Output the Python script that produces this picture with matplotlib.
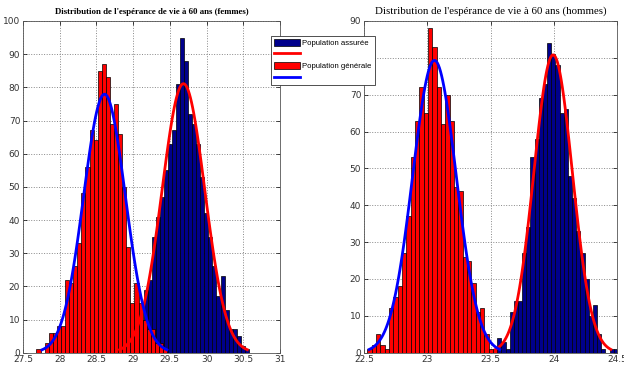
import numpy as np
import matplotlib
matplotlib.use("Agg")
import matplotlib.pyplot as plt
from matplotlib.patches import Patch
from matplotlib.lines import Line2D

# --- femmes (panneau gauche) ---
fem_gen_start = 27.683
fem_gen_width = 0.0556
fem_gen_counts = [1, 0, 3, 6, 6, 8, 8, 22, 21, 26, 33, 48, 56, 67, 64, 85,
                  87, 83, 69, 75, 66, 50, 32, 15, 21, 15, 10, 7, 7, 3, 3, 1]
fem_gen_fit = (28.61, 0.284)

fem_ass_start = 28.705
fem_ass_width = 0.055
fem_ass_counts = [1, 0, 0, 0, 1, 8, 4, 10, 19, 22, 35, 41, 47, 55, 63, 67,
                  81, 95, 88, 72, 69, 63, 53, 42, 35, 26, 17, 23, 13, 7, 7, 5, 2, 1]
fem_ass_fit = (29.685, 0.29)

# --- hommes (panneau droit) ---
hom_gen_start = 22.527
hom_gen_width = 0.0342
hom_gen_counts = [1, 2, 5, 2, 1, 12, 15, 18, 27, 37, 53, 63, 72, 65, 88, 83,
                  72, 62, 70, 63, 45, 44, 26, 25, 19, 11, 12, 5, 1, 1]
hom_gen_fit = (23.057, 0.172)

hom_ass_start = 23.553
hom_ass_width = 0.0329
hom_ass_counts = [4, 3, 1, 11, 14, 14, 27, 34, 53, 58, 69, 73, 84, 81, 78, 65,
                  66, 48, 42, 33, 27, 20, 10, 13, 5, 1, 0, 1, 1]
hom_ass_fit = (23.995, 0.152)

titres = ["Distribution de l'espérance de vie à 60 ans (femmes)",
          "Distribution de l'espérance de vie à 60 ans (hommes)"]
labels = ["Population assurée", "Population générale"]

BLEU_FONCE = (0.0, 0.0, 0.55)


def histfit(ax, start, width, counts, fit, bar_color, line_color):
    counts = np.asarray(counts, dtype=float)
    edges = start + width * np.arange(len(counts))
    ax.bar(edges, counts, width=width, align="edge", color=bar_color,
           edgecolor="black", linewidth=0.5)
    mu, sig = fit
    x = np.linspace(mu - 3 * sig, mu + 3 * sig, 120)
    y = counts.sum() * width * np.exp(-0.5 * ((x - mu) / sig) ** 2) / (sig * np.sqrt(2 * np.pi))
    return x, y


def tracer(ax, gen, ass, xlim, ylim, xticks, yticks, titre, titre_kw):
    # assuree d'abord, puis generale par-dessus
    xa, ya = histfit(ax, *ass, BLEU_FONCE, "red")
    ax.plot(xa, ya, color="red", linewidth=2)
    xg, yg = histfit(ax, *gen, "red", "blue")
    ax.plot(xg, yg, color="blue", linewidth=2)

    ax.set_xlim(*xlim)
    ax.set_ylim(*ylim)
    ax.set_xticks(xticks)
    ax.set_yticks(yticks)
    ax.set_xticklabels([f"{t:g}" for t in xticks])
    ax.set_axisbelow(True)
    ax.grid(True, linestyle=":", color="#888888", linewidth=0.7)
    ax.tick_params(direction="in", top=True, right=True, length=3, width=0.5,
                   labelsize=6.5, labelcolor="#333333", pad=2)
    for s in ax.spines.values():
        s.set_linewidth(0.6)
        s.set_color("#555555")
    ax.set_title(titre, family="Liberation Serif", pad=5, **titre_kw)


fig = plt.figure(figsize=(6.24, 3.66), dpi=100)
ax1 = fig.add_axes([23 / 624, 13.3 / 366, 257 / 624, 331.7 / 366])
ax2 = fig.add_axes([364 / 624, 13.3 / 366, 253 / 624, 331.7 / 366])

tracer(ax1,
       (fem_gen_start, fem_gen_width, fem_gen_counts, fem_gen_fit),
       (fem_ass_start, fem_ass_width, fem_ass_counts, fem_ass_fit),
       (27.5, 31), (0, 100), np.arange(27.5, 31.01, 0.5), np.arange(0, 101, 10),
       titres[0], dict(fontsize=6.3, fontweight="bold"))
tracer(ax2,
       (hom_gen_start, hom_gen_width, hom_gen_counts, hom_gen_fit),
       (hom_ass_start, hom_ass_width, hom_ass_counts, hom_ass_fit),
       (22.5, 24.5), (0, 90), np.arange(22.5, 24.51, 0.5), np.arange(0, 91, 10),
       titres[1], dict(fontsize=7.8))

handles = [Patch(facecolor=BLEU_FONCE, edgecolor="black", linewidth=0.5),
           Line2D([], [], color="red", linewidth=2),
           Patch(facecolor="red", edgecolor="black", linewidth=0.5),
           Line2D([], [], color="blue", linewidth=2)]
leg = fig.legend(handles, [labels[0], "", labels[1], ""],
                 loc="upper left", bbox_to_anchor=(271 / 624, 1 - 36 / 366),
                 prop={"family": "Liberation Sans", "size": 5.6},
                 frameon=True, fancybox=False, framealpha=1,
                 edgecolor="#333333", handlelength=3.4, handleheight=1.0,
                 handletextpad=0.3, borderpad=0.35, labelspacing=0.45,
                 borderaxespad=0)
leg.get_frame().set_linewidth(0.6)

fig.savefig("out.png", dpi=100)
